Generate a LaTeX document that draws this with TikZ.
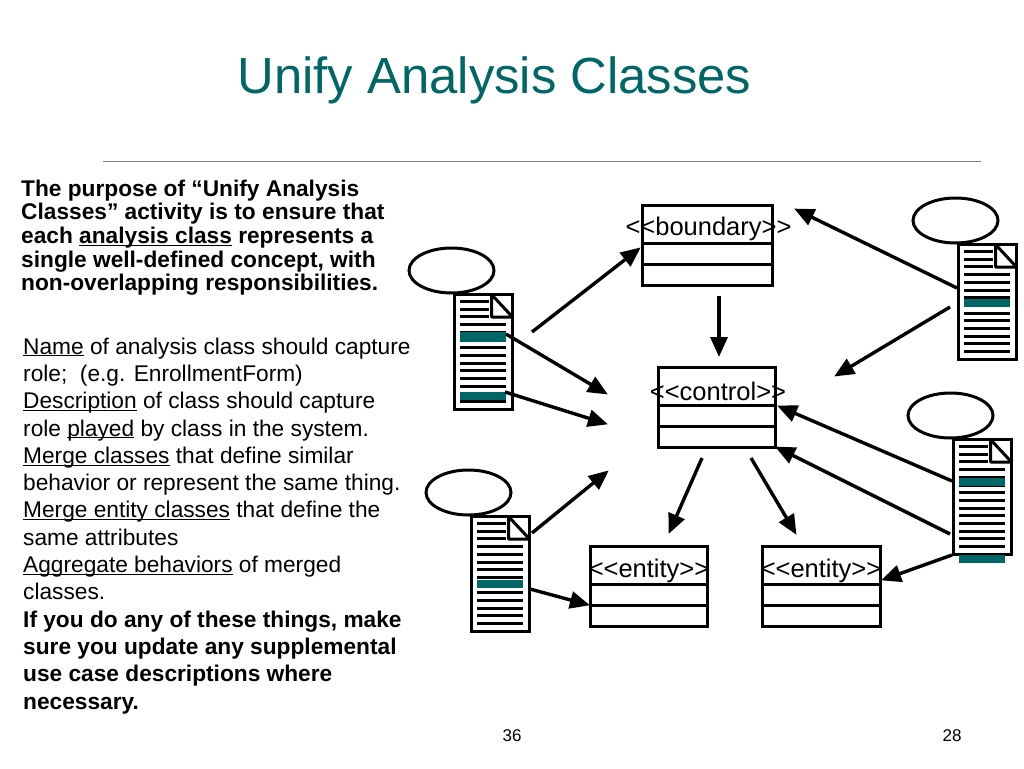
\documentclass[tikz,border=0pt]{standalone}
\usepackage{fontspec}
\setmainfont{Liberation Sans}
\usetikzlibrary{positioning,calc,arrows.meta,shapes.geometric}
\definecolor{slideteal}{HTML}{006666}
\tikzset{
    flow/.style={line width=3.4pt,-{Triangle[length=20pt,width=17pt]},shorten >=-1pt},
    docpage/.style={draw,line width=3pt,rectangle,minimum width=58pt,minimum height=115pt,anchor=north west,inner sep=0pt,outer sep=0pt},
    actorcase/.style={draw,line width=3pt,ellipse,minimum width=85pt,minimum height=45pt,inner sep=0pt,outer sep=0pt},
    classbox/.style={draw,line width=3pt,rectangle,minimum width=#1,minimum height=80pt,anchor=north west,inner sep=0pt,outer sep=0pt},
    classname/.style={font=\fontsize{25.5}{28}\selectfont,inner sep=0pt},
    bodytext/.style={anchor=north west,inner sep=0pt,align=left},
}
\newcommand{\ul}[1]{\underline{\smash{#1}}}
% page icon: name, left, top, list of teal bands (from/to)
\newcommand{\docicon}[4]{
    \node[docpage] (#1) at (#2,#3) {};
    \node[actorcase,above=1.5pt of #1.north west,xshift=-3pt] (#1case) {};
    \begin{scope}[shift={(#2,#3)}]
        \foreach \y in {7,14.7,22.4}
            \draw[line width=3pt] (5.5,\y) -- (34,\y);
        \foreach \y in {30.1,37.8,45.5,53.2,60.9,68.6,76.3,84,91.7,99.4,107.1}
            \draw[line width=3pt] (5.5,\y) -- (51,\y);
        \draw[line width=3pt,line join=bevel,fill=white] (37,0) -- (37,22.5) -- (58,22.5) -- cycle;
        \foreach \a/\b in {#4}
            \fill[slideteal] (5.5,\a) rectangle (51,\b);
    \end{scope}
}
\newcommand{\classicon}[4]{
    \node[classbox=#4] (#1) at (#2,#3) {};
    \draw[line width=3pt] ($(#1.north west)+(0,38)$) -- ($(#1.north east)+(0,38)$);
    \draw[line width=3pt] ($(#1.north west)+(0,59)$) -- ($(#1.north east)+(0,59)$);
}
\begin{document}
\begin{tikzpicture}[x=1pt,y=-1pt]
    \useasboundingbox (0,0) rectangle (1024,768);

    \node[text=slideteal,font=\fontsize{50.8}{56}\selectfont,inner sep=0pt] (title) at (494.5,80) {Unify Analysis Classes};
    \coordinate (ruleL) at (103,161);
    \coordinate (ruleR) at (981,161);
    \draw[gray,line width=1pt] (ruleL) -- (ruleR);

    \node[bodytext,font=\fontsize{22.7}{23.7}\selectfont\bfseries] (purpose) at (21,179.5) {The purpose of “Unify Analysis\\Classes” activity is to ensure that\\each \ul{analysis class} represents a\\single well-defined concept, with\\non-overlapping responsibilities.};
    \node[bodytext,font=\fontsize{22.7}{27.3}\selectfont] (advice) at (23,337.5) {\ul{Name} of analysis class should capture\\role;\ \ (e.g. EnrollmentForm)\\\ul{Description} of class should capture\\role \ul{played} by class in the system.\\\ul{Merge classes} that define similar\\behavior or represent the same thing.\\\ul{Merge entity classes} that define the\\same attributes\\\ul{Aggregate behaviors} of merged\\classes.\\\textbf{If you do any of these things, make}\\\textbf{sure you update any supplemental}\\\textbf{use case descriptions where}\\\textbf{necessary.}};

    \node[font=\fontsize{17}{20}\selectfont,inner sep=0pt] (pageA) at (512,736) {36};
    \node[font=\fontsize{17}{20}\selectfont,inner sep=0pt] (pageB) at (952,736) {28};

    % classes
    \classicon{boundary}{642.5}{205.5}{130pt}
    \classicon{control}{658.5}{367.5}{117pt}
    \classicon{entityA}{590.5}{546.5}{117pt}
    \classicon{entityB}{762.5}{546.5}{118pt}
    \node[classname] (boundaryname) at (708.5,229) {<{}<boundary>{}>};
    \node[classname] (controlname) at (718,391) {<{}<control>{}>};
    \node[classname] (entityAname) at (649,571) {<{}<entity>{}>};
    \node[classname] (entityBname) at (821,571) {<{}<entity>{}>};

    % pages
    \docicon{docA}{454.5}{294.5}{37/47,97/105}
    \docicon{docB}{958.5}{244.5}{54.5/62.5}
    \docicon{docC}{953.5}{439.5}{38.5/46.5,115.5/123.5}
    \docicon{docD}{471.5}{516.5}{63.5/71.5}

    % free ends
    \coordinate (a1) at (532,332);
    \coordinate (a2) at (506,334);
    \coordinate (a3) at (505,392);
    \coordinate (a4) at (607,394);
    \coordinate (a5) at (607,424);
    \coordinate (a6) at (640,248);
    \coordinate (b1) at (957,288);
    \coordinate (b2) at (950,307);
    \coordinate (b3) at (795,209);
    \coordinate (b4) at (835,376);
    \coordinate (c1) at (952,481);
    \coordinate (c2) at (950,534);
    \coordinate (c3) at (952,555);
    \coordinate (c4) at (778,406);
    \coordinate (c5) at (776,447);
    \coordinate (c6) at (882,580);
    \coordinate (d1) at (532,533);
    \coordinate (d2) at (530,589);
    \coordinate (d3) at (608,471);
    \coordinate (d4) at (589,605);
    \coordinate (e1) at (719,296);
    \coordinate (e2) at (719,356);
    \coordinate (e3) at (702,458);
    \coordinate (e4) at (751,458);
    \coordinate (e5) at (669,533);
    \coordinate (e6) at (796,534);

    \draw[flow] (a1) -- (a6);
    \draw[flow] (a2) -- (a4);
    \draw[flow] (a3) -- (a5);
    \draw[flow] (b1) -- (b3);
    \draw[flow] (b2) -- (b4);
    \draw[flow] (c1) -- (c4);
    \draw[flow] (c2) -- (c5);
    \draw[flow] (c3) -- (c6);
    \draw[flow] (d1) -- (d3);
    \draw[flow] (d2) -- (d4);
    \draw[flow] (e1) -- (e2);
    \draw[flow] (e3) -- (e5);
    \draw[flow] (e4) -- (e6);
\end{tikzpicture}
\end{document}
